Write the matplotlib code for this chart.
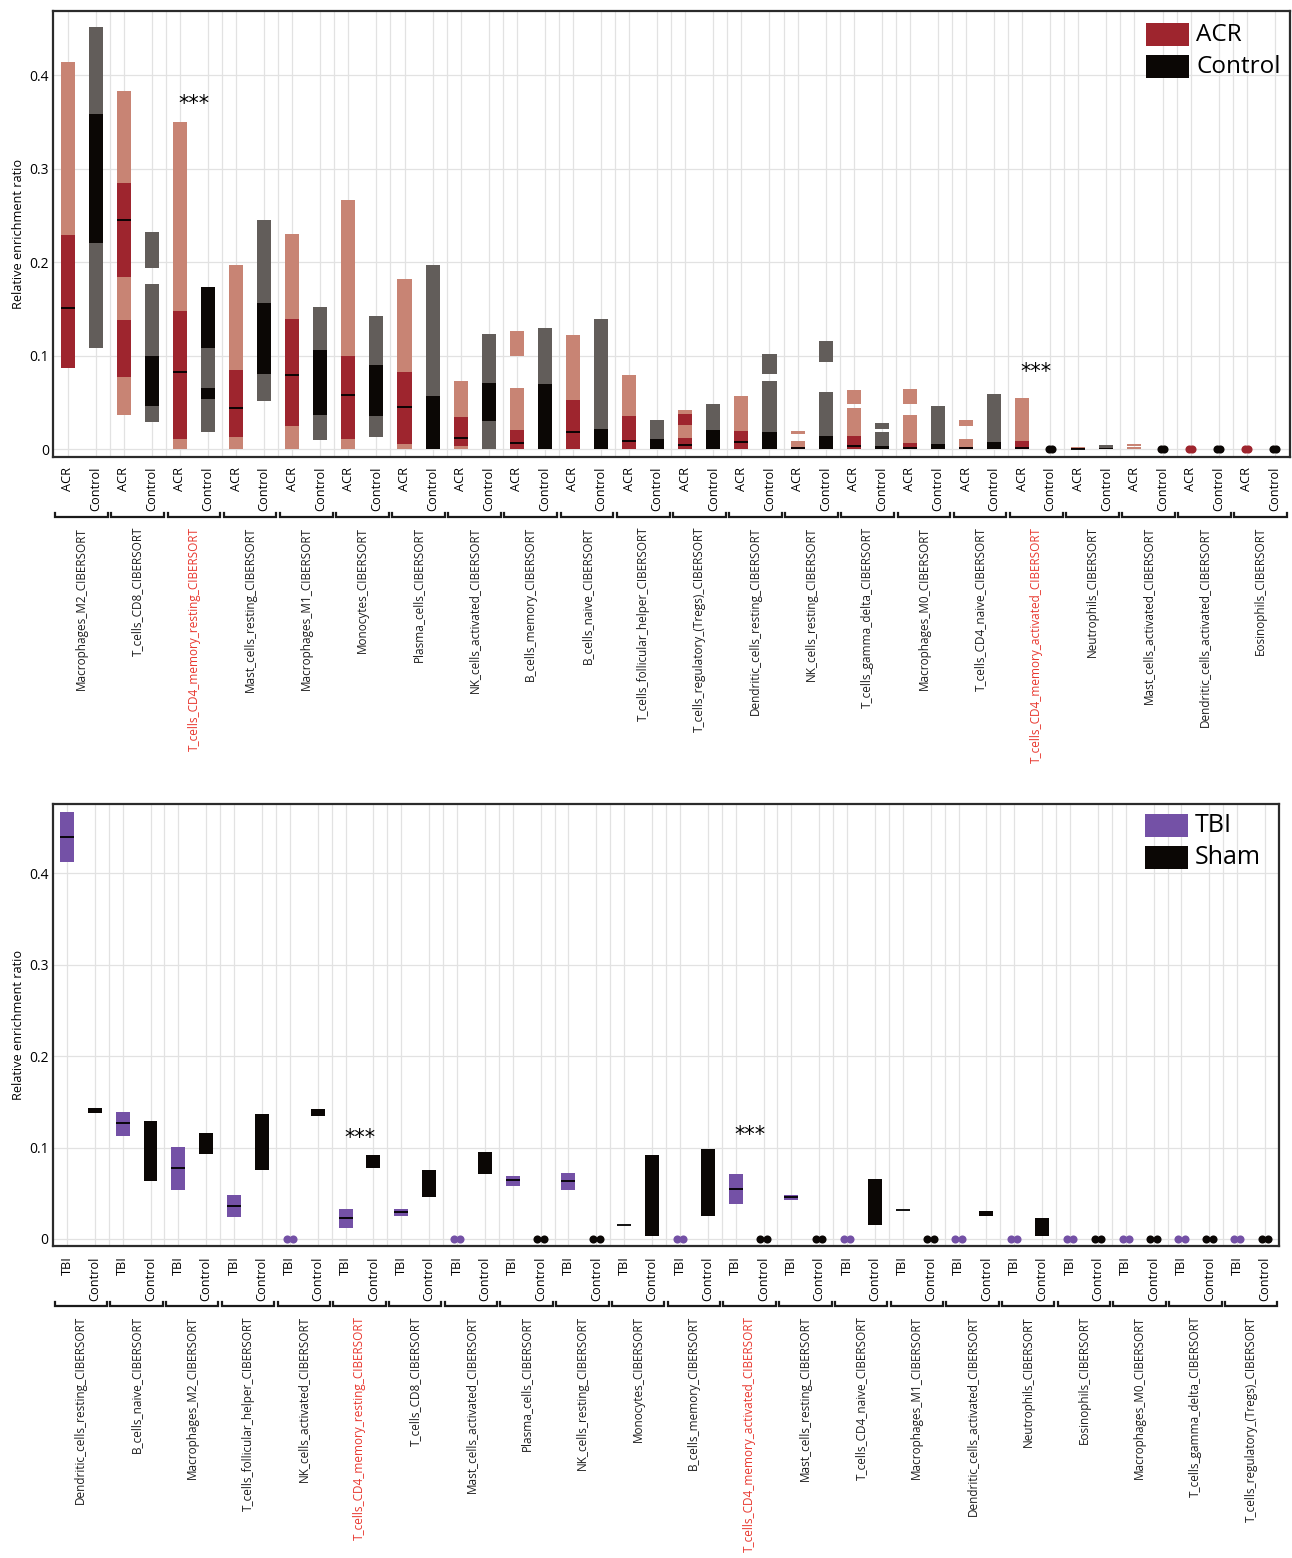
import matplotlib
matplotlib.use('Agg')
import matplotlib.pyplot as plt
from matplotlib.patches import Rectangle

plt.rcParams['font.family'] = ['Open Sans', 'DejaVu Sans']

W, H = 1292, 1558

# ---------------- data: top panel (ACR vs Control) ----------------
top_groups = ['Macrophages_M2', 'T_cells_CD8', 'T_cells_CD4_memory_resting', 'Mast_cells_resting',
              'Macrophages_M1', 'Monocytes', 'Plasma_cells', 'NK_cells_activated', 'B_cells_memory',
              'B_cells_naive', 'T_cells_follicular_helper', 'T_cells_regulatory_(Tregs)',
              'Dendritic_cells_resting', 'NK_cells_resting', 'T_cells_gamma_delta', 'Macrophages_M0',
              'T_cells_CD4_naive', 'T_cells_CD4_memory_activated', 'Neutrophils', 'Mast_cells_activated',
              'Dendritic_cells_activated', 'Eosinophils']

# segments: (low, high, 'L' light / 'D' dark)
acr_segments = [
    [(0.229, 0.414, 'L'), (0.087, 0.229, 'D')],
    [(0.285, 0.383, 'L'), (0.184, 0.285, 'D'), (0.138, 0.184, 'L'), (0.077, 0.138, 'D'), (0.037, 0.077, 'L')],
    [(0.148, 0.350, 'L'), (0.011, 0.148, 'D'), (0.0, 0.011, 'L')],
    [(0.085, 0.197, 'L'), (0.013, 0.085, 'D'), (0.0, 0.013, 'L')],
    [(0.139, 0.230, 'L'), (0.025, 0.139, 'D'), (0.0, 0.025, 'L')],
    [(0.100, 0.267, 'L'), (0.011, 0.100, 'D'), (0.0, 0.011, 'L')],
    [(0.083, 0.182, 'L'), (0.006, 0.083, 'D'), (0.0, 0.006, 'L')],
    [(0.035, 0.073, 'L'), (0.004, 0.035, 'D'), (0.0, 0.004, 'L')],
    [(0.100, 0.127, 'L'), (0.021, 0.066, 'L'), (0.0, 0.021, 'D')],
    [(0.053, 0.122, 'L'), (0.0, 0.053, 'D')],
    [(0.036, 0.079, 'L'), (0.0, 0.036, 'D')],
    [(0.038, 0.042, 'L'), (0.026, 0.038, 'D'), (0.012, 0.026, 'L'), (0.0, 0.012, 'D')],
    [(0.020, 0.057, 'L'), (0.0, 0.020, 'D')],
    [(0.016, 0.020, 'L'), (0.003, 0.009, 'L'), (0.0, 0.003, 'D')],
    [(0.048, 0.063, 'L'), (0.014, 0.044, 'L'), (0.0, 0.014, 'D')],
    [(0.049, 0.064, 'L'), (0.007, 0.037, 'L'), (0.0, 0.007, 'D')],
    [(0.025, 0.031, 'L'), (0.003, 0.011, 'L'), (0.0, 0.003, 'D')],
    [(0.009, 0.055, 'L'), (0.0, 0.009, 'D')],
    [(0.001, 0.003, 'L'), (0.0, 0.001, 'D')],
    [(0.004, 0.006, 'L'), (0.0007, 0.003, 'L'), (0.0, 0.0007, 'D')],
    [],
    [],
]
acr_median = [0.151, 0.245, 0.083, 0.044, 0.080, 0.058, 0.045, 0.0125, 0.007, 0.018, 0.009,
              0.005, 0.008, 0.001, 0.004, 0.001, 0.001, 0.001, 0.0005, None, None, None]

ctrl_segments = [
    [(0.359, 0.452, 'L'), (0.221, 0.359, 'D'), (0.108, 0.221, 'L')],
    [(0.194, 0.232, 'L'), (0.100, 0.177, 'L'), (0.046, 0.100, 'D'), (0.029, 0.046, 'L')],
    [(0.108, 0.174, 'D'), (0.066, 0.108, 'L'), (0.054, 0.066, 'D'), (0.019, 0.054, 'L')],
    [(0.157, 0.245, 'L'), (0.081, 0.157, 'D'), (0.052, 0.081, 'L')],
    [(0.106, 0.152, 'L'), (0.037, 0.106, 'D'), (0.010, 0.037, 'L')],
    [(0.090, 0.143, 'L'), (0.036, 0.090, 'D'), (0.013, 0.036, 'L')],
    [(0.057, 0.197, 'L'), (0.0, 0.057, 'D')],
    [(0.071, 0.123, 'L'), (0.030, 0.071, 'D'), (0.0, 0.030, 'L')],
    [(0.070, 0.130, 'L'), (0.0, 0.070, 'D')],
    [(0.022, 0.139, 'L'), (0.0, 0.022, 'D')],
    [(0.011, 0.031, 'L'), (0.0, 0.011, 'D')],
    [(0.021, 0.048, 'L'), (0.0, 0.021, 'D')],
    [(0.081, 0.102, 'L'), (0.019, 0.073, 'L'), (0.0, 0.019, 'D')],
    [(0.093, 0.116, 'L'), (0.014, 0.061, 'L'), (0.0, 0.014, 'D')],
    [(0.022, 0.028, 'L'), (0.004, 0.018, 'L'), (0.0, 0.004, 'D')],
    [(0.006, 0.046, 'L'), (0.0, 0.006, 'D')],
    [(0.008, 0.059, 'L'), (0.0, 0.008, 'D')],
    [],
    [(0.001, 0.0046, 'L'), (0.0, 0.001, 'D')],
    [],
    [],
    [],
]
top_sig = ['T_cells_CD4_memory_resting', 'T_cells_CD4_memory_activated']
top_sig_y = [0.369, 0.083]

# ---------------- data: bottom panel (TBI vs Sham) ----------------
bot_groups = ['Dendritic_cells_resting', 'B_cells_naive', 'Macrophages_M2', 'T_cells_follicular_helper',
              'NK_cells_activated', 'T_cells_CD4_memory_resting', 'T_cells_CD8', 'Mast_cells_activated',
              'Plasma_cells', 'NK_cells_resting', 'Monocytes', 'B_cells_memory',
              'T_cells_CD4_memory_activated', 'Mast_cells_resting', 'T_cells_CD4_naive', 'Macrophages_M1',
              'Dendritic_cells_activated', 'Neutrophils', 'Eosinophils', 'Macrophages_M0',
              'T_cells_gamma_delta', 'T_cells_regulatory_(Tregs)']
tbi_lo = [0.413, 0.113, 0.054, 0.024, 0, 0.012, 0.0255, 0, 0.058, 0.054, 0.0153, 0,
          0.038, 0.0427, 0, 0.0317, 0, 0, 0, 0, 0, 0]
tbi_hi = [0.4675, 0.139, 0.101, 0.048, 0, 0.0325, 0.0325, 0, 0.069, 0.072, 0.0153, 0,
          0.071, 0.0485, 0, 0.0317, 0, 0, 0, 0, 0, 0]
tbi_med = [0.440, 0.1265, 0.078, 0.0365, None, 0.0226, 0.029, None, 0.064, 0.063, 0.0153, None,
           0.055, 0.046, None, 0.0317, None, None, None, None, None, None]
sham_lo = [0.138, 0.063, 0.093, 0.076, 0.1345, 0.078, 0.0456, 0.0707, 0, 0, 0.0033, 0.025,
           0, 0, 0.0153, 0, 0.025, 0.0033, 0, 0, 0, 0]
sham_hi = [0.143, 0.129, 0.116, 0.137, 0.142, 0.0915, 0.0755, 0.0948, 0, 0, 0.0923, 0.098,
           0, 0, 0.066, 0, 0.031, 0.023, 0, 0, 0, 0]
bot_sig = ['T_cells_CD4_memory_resting', 'T_cells_CD4_memory_activated']
bot_sig_y = [0.110, 0.114]

# ---------------- colours ----------------
ACR_D, ACR_L = '#9e252e', '#c88474'
CTL_D, CTL_L = '#0b0705', '#625d5a'
TBI_C = '#7451a6'
SIG_RED = '#e8362d'
BAR_W = 0.5


def px_rect(x0, y0, x1, y1):
    return [x0 / W, 1 - y1 / H, (x1 - x0) / W, (y1 - y0) / H]


def zero_dots(ax, x, color, off):
    ax.scatter([x - off, x + off], [0, 0], s=34, color=color, zorder=4, clip_on=False, linewidths=0)


def style_axis(ax, groups, sig, tick_names, xlim, ylim, ax_h_px):
    n = len(groups)
    ax.set_xlim(*xlim)
    ax.set_ylim(*ylim)
    ax.set_xticks(range(2 * n))
    ax.set_xticklabels(tick_names * n)
    ax.set_xticks([2 * g + 1.5 for g in range(n)], minor=True)
    ax.tick_params(axis='x', which='major', length=0, pad=7.5, labelsize=9.2, labelrotation=90)
    ax.tick_params(axis='x', which='minor', length=0)
    ax.set_yticks([0, 0.1, 0.2, 0.3, 0.4])
    ax.set_yticklabels(['0', '0.1', '0.2', '0.3', '0.4'])
    ax.tick_params(axis='y', length=0, pad=3, labelsize=10)
    ax.set_ylabel('Relative enrichment ratio', fontsize=9.2, labelpad=3)
    ax.grid(True, which='both', axis='x', color='#e2e2e2', lw=0.9)
    ax.grid(True, which='major', axis='y', color='#e2e2e2', lw=0.9)
    ax.set_axisbelow(True)
    for s in ax.spines.values():
        s.set_linewidth(1.6)
        s.set_color('#2b2b2b')

    trans = ax.get_xaxis_transform()
    yb = -60 / ax_h_px
    up = 4 / ax_h_px
    yl = -70 / ax_h_px
    for g, name in enumerate(groups):
        c = 2 * g + 0.5
        ax.plot([c - 0.94, c - 0.94, c + 0.94, c + 0.94], [yb + up, yb, yb, yb + up],
                transform=trans, color='#1a1a1a', lw=1.6, clip_on=False, solid_joinstyle='miter')
        col = SIG_RED if name in sig else '#1a1a1a'
        ax.text(c, yl, name + '_CIBERSORT', transform=trans, rotation=90, ha='center', va='top',
                fontsize=8.5, color=col)


def draw_legend(fig, items, x0, y0, fs):
    for i, (lab, col) in enumerate(items):
        yy = y0 + i * 32
        fig.add_artist(Rectangle((x0 / W, 1 - (yy + 23) / H), 43 / W, 23 / H,
                                 transform=fig.transFigure, facecolor=col, edgecolor='none'))
        fig.text((x0 + 50) / W, 1 - (yy + 12) / H, lab, fontsize=fs, va='center', ha='left')


def stars(ax, groups, sig, sig_y):
    for name, yv in zip(sig, sig_y):
        ax.text(2 * groups.index(name) + 0.5, yv, '***', ha='center', va='center',
                fontsize=15, family='DejaVu Sans')


fig = plt.figure(figsize=(W / 100, H / 100), dpi=100)

# ---------------- top panel ----------------
ax1 = fig.add_axes(px_rect(53, 11, 1290, 456.7))
for g in range(len(top_groups)):
    for x, segs, med, cd, cl in [(2 * g, acr_segments[g], acr_median[g], ACR_D, ACR_L),
                                 (2 * g + 1, ctrl_segments[g], None, CTL_D, CTL_L)]:
        if not segs:
            zero_dots(ax1, x, cd, 0.055)
            continue
        for lo, hi, k in segs:
            ax1.bar(x, hi - lo, bottom=lo, width=BAR_W, color=cd if k == 'D' else cl, zorder=2)
        if med is not None:
            ax1.hlines(med, x - BAR_W / 2, x + BAR_W / 2, color='black', lw=1.3, zorder=3)
stars(ax1, top_groups, top_sig, top_sig_y)
style_axis(ax1, top_groups, top_sig, ['ACR', 'Control'], (-0.52, 43.54), (-0.0079, 0.4688), 445.7)
draw_legend(fig, [('ACR', ACR_D), ('Control', CTL_D)], 1146, 23, 17.5)

# ---------------- bottom panel ----------------
ax2 = fig.add_axes(px_rect(52.7, 804, 1279, 1246))
for g in range(len(bot_groups)):
    for x, lo, hi, med, col in [(2 * g, tbi_lo[g], tbi_hi[g], tbi_med[g], TBI_C),
                                (2 * g + 1, sham_lo[g], sham_hi[g], None, CTL_D)]:
        if hi == 0:
            zero_dots(ax2, x, col, 0.115)
            continue
        if hi > lo:
            ax2.bar(x, hi - lo, bottom=lo, width=BAR_W, color=col, zorder=2)
        if med is not None:
            ax2.hlines(med, x - BAR_W / 2, x + BAR_W / 2, color='black', lw=1.3, zorder=3)
stars(ax2, bot_groups, bot_sig, bot_sig_y)
style_axis(ax2, bot_groups, bot_sig, ['TBI', 'Control'], (-0.51, 43.5), (-0.0077, 0.476), 442)
draw_legend(fig, [('TBI', TBI_C), ('Sham', CTL_D)], 1145, 814, 18)

fig.savefig('out.png', dpi=100)
